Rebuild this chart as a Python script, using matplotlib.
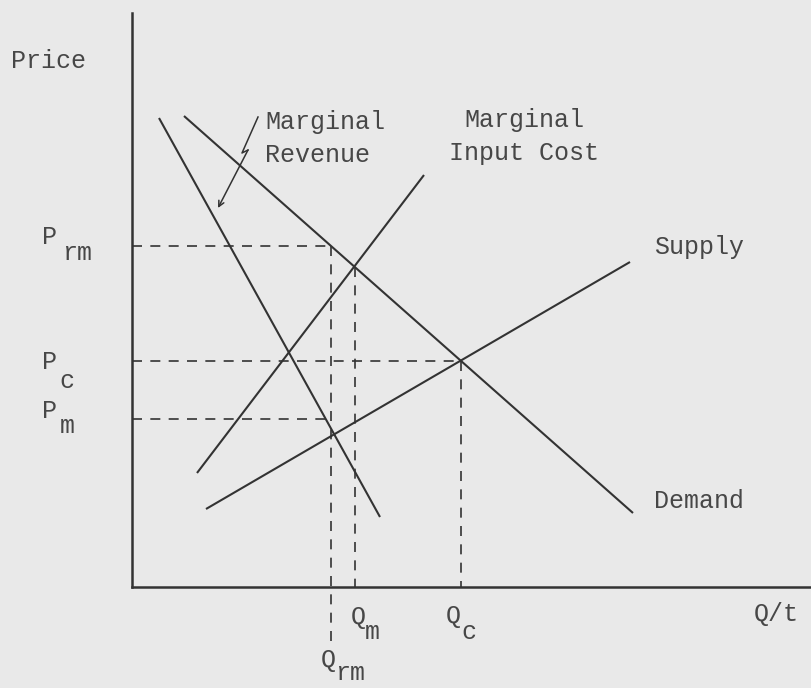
import matplotlib
matplotlib.use('Agg')
from matplotlib import pyplot as plt

# Linie wykresu (Q, P) - punkty koncowe
mr_q = [2.7, 24.8]
mr_p = [46.9, 7.0]
demand_q = [5.2, 50.1]
demand_p = [47.1, 7.4]
mic_q = [6.5, 29.2]
mic_p = [11.4, 41.2]
supply_q = [7.4, 49.8]
supply_p = [7.8, 32.5]

# Poziomy cen i ilosci (linie przerywane)
p_rm, p_c, p_m = 34.1, 22.6, 16.8
q_rm, q_m, q_c = 19.9, 22.3, 32.9

# Strzalka z opisem "Marginal Revenue"
arrow_q = [12.6, 11.0, 11.6, 8.6]
arrow_p = [47.0, 43.4, 43.7, 37.9]

ink = '#333333'
txt = '#474747'
font = 'Liberation Mono'
fs = 18

fig = plt.figure(figsize=(8.12, 6.88), dpi=100, facecolor='#e9e9e9')
ax = fig.add_axes([132 / 812, 101 / 688, 680 / 812, 574 / 688])
ax.set_facecolor('none')
ax.set_xlim(0, 68)
ax.set_ylim(0, 57.4)
ax.set_xticks([])
ax.set_yticks([])
for s in ['top', 'right']:
    ax.spines[s].set_visible(False)
for s in ['left', 'bottom']:
    ax.spines[s].set_linewidth(1.8)
    ax.spines[s].set_color(ink)

# Krzywe
for q, p in [(mr_q, mr_p), (demand_q, demand_p), (mic_q, mic_p), (supply_q, supply_p)]:
    ax.plot(q, p, color=ink, lw=1.5, solid_capstyle='butt')

# Linie przerywane
dash = dict(color=ink, lw=1.2, dashes=(6, 5))
ax.plot([0, q_rm], [p_rm, p_rm], **dash)
ax.plot([0, q_c], [p_c, p_c], **dash)
ax.plot([0, q_rm], [p_m, p_m], **dash)
ax.plot([q_rm, q_rm], [p_rm, -6.0], clip_on=False, **dash)
p_top_m = demand_p[0] + (q_m - demand_q[0]) * (demand_p[1] - demand_p[0]) / (demand_q[1] - demand_q[0])
ax.plot([q_m, q_m], [p_top_m, 0], **dash)
ax.plot([q_c, q_c], [p_c, 0], **dash)

# Strzalka
ax.plot(arrow_q[:3], arrow_p[:3], color=ink, lw=1.1)
ax.annotate('', xy=(arrow_q[3], arrow_p[3]), xytext=(arrow_q[2], arrow_p[2]),
            arrowprops=dict(arrowstyle='->', color=ink, lw=1.1, shrinkA=0, shrinkB=0))

# Opisy
kw = dict(fontsize=fs, family=font, color=txt, clip_on=False)
ax.text(-12.1, 52.6, 'Price', ha='left', va='center', **kw)
ax.text(13.3, 46.5, 'Marginal', ha='left', va='center', **kw)
ax.text(13.3, 43.2, 'Revenue', ha='left', va='center', **kw)
ax.text(39.2, 46.7, 'Marginal', ha='center', va='center', **kw)
ax.text(39.2, 43.4, 'Input Cost', ha='center', va='center', **kw)
ax.text(52.2, 34.0, 'Supply', ha='left', va='center', **kw)
ax.text(52.2, 8.6, 'Demand', ha='left', va='center', **kw)
ax.text(64.4, -2.7, 'Q/t', ha='center', va='center', **kw)

ax.text(-8.2, 35.0, 'P', ha='center', va='center', **kw)
ax.text(-5.5, 33.4, 'rm', ha='center', va='center', **kw)
ax.text(-8.2, 22.5, 'P', ha='center', va='center', **kw)
ax.text(-6.5, 20.6, 'c', ha='center', va='center', **kw)
ax.text(-8.2, 17.6, 'P', ha='center', va='center', **kw)
ax.text(-6.5, 16.1, 'm', ha='center', va='center', **kw)

ax.text(22.6, -3.0, 'Q', ha='center', va='center', **kw)
ax.text(24.0, -4.5, 'm', ha='center', va='center', **kw)
ax.text(32.1, -2.9, 'Q', ha='center', va='center', **kw)
ax.text(33.7, -4.5, 'c', ha='center', va='center', **kw)
ax.text(19.6, -7.3, 'Q', ha='center', va='center', **kw)
ax.text(21.8, -8.6, 'rm', ha='center', va='center', **kw)

fig.savefig('out.png', dpi=100, facecolor=fig.get_facecolor())
